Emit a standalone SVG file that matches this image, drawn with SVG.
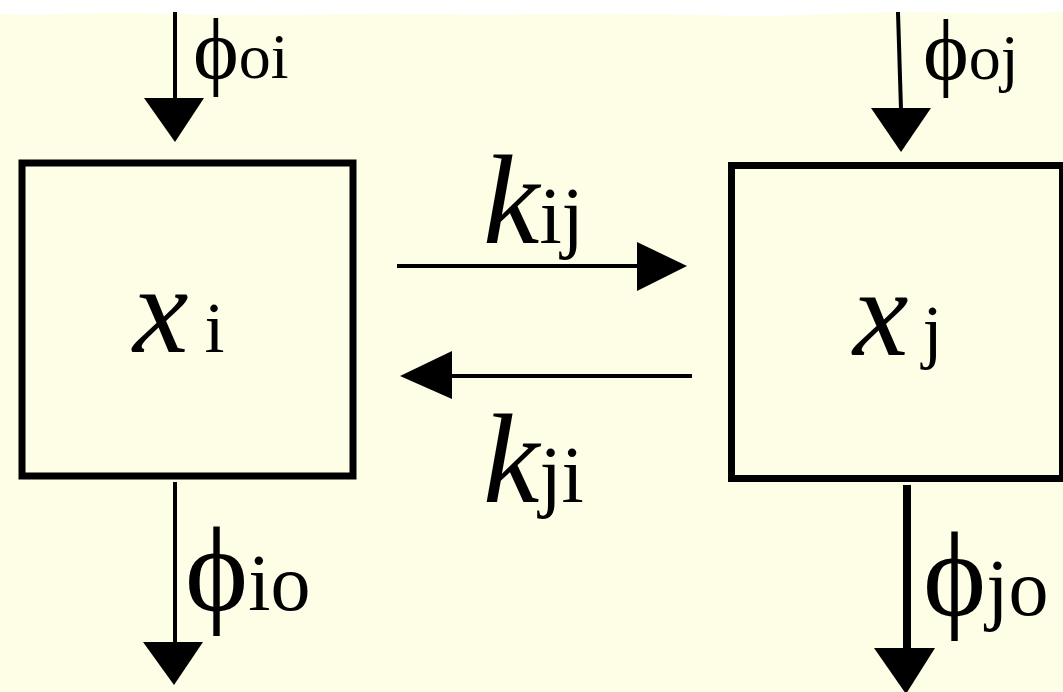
<svg xmlns="http://www.w3.org/2000/svg" width="1063" height="692" viewBox="0 0 1063 692">
<defs>
<style>
.bg{fill:#FEFDE6}
.box{fill:none;stroke:#000;stroke-width:7}
.ln{stroke:#000;stroke-width:4;fill:none}
.hd{fill:#000}
.t{font-family:"Liberation Serif","DejaVu Serif",serif;fill:#000}
.it{font-style:italic}
</style>
</defs>
<rect class="bg" x="0" y="0" width="1063" height="692"/>
<path d="M0 0 H1063 V12 Q1010 15 960 13 Q900 11 830 14 Q760 17 700 15 Q630 13 560 14 Q500 15 430 14 Q360 13 300 15 Q240 16 180 14 Q120 12 60 14 Q30 15 0 14 Z" fill="#FFFFFF"/>
<g id="node-xi">
<rect class="box" x="22" y="163" width="331" height="313"/>
<text class="t" x="133" y="352"><tspan class="it" font-size="125">x</tspan><tspan dx="16" font-size="72">i</tspan></text>
</g>
<g id="node-xj">
<rect class="box" x="731.5" y="165.5" width="331" height="313"/>
<text class="t" x="853" y="355"><tspan class="it" font-size="125">x</tspan><tspan dx="14" font-size="72">j</tspan></text>
</g>
<g id="connectors">
<line class="ln" x1="175" y1="12" x2="175" y2="100"/>
<polygon class="hd" points="144,98 204,98 175,142"/>
<text class="t" x="193" y="78"><tspan font-size="87">ϕ</tspan><tspan font-size="64">oi</tspan></text>

<line class="ln" x1="898" y1="12" x2="901" y2="110"/>
<polygon class="hd" points="871,108 931,108 901,152"/>
<text class="t" x="923" y="79"><tspan font-size="87">ϕ</tspan><tspan font-size="64">oj</tspan></text>

<line class="ln" x1="397" y1="266" x2="640" y2="266"/>
<polygon class="hd" points="637,242 637,291 687,266"/>
<text class="t" x="483" y="243"><tspan class="it" font-size="127">k</tspan><tspan font-size="80">ij</tspan></text>

<line class="ln" x1="692" y1="376" x2="450" y2="376"/>
<polygon class="hd" points="452,351 452,399 400,376"/>
<text class="t" x="483" y="502"><tspan class="it" font-size="127">k</tspan><tspan font-size="80">ji</tspan></text>

<line class="ln" x1="175" y1="482" x2="175" y2="645"/>
<polygon class="hd" points="143,642 203,642 174,685"/>
<text class="t" x="185" y="610"><tspan font-size="120">ϕ</tspan><tspan font-size="80">io</tspan></text>

<line class="ln" x1="907" y1="485" x2="907" y2="652" style="stroke-width:8"/>
<polygon class="hd" points="874,648 935,648 906,694"/>
<text class="t" x="923" y="615"><tspan font-size="120">ϕ</tspan><tspan font-size="80">jo</tspan></text>
</g>
</svg>
